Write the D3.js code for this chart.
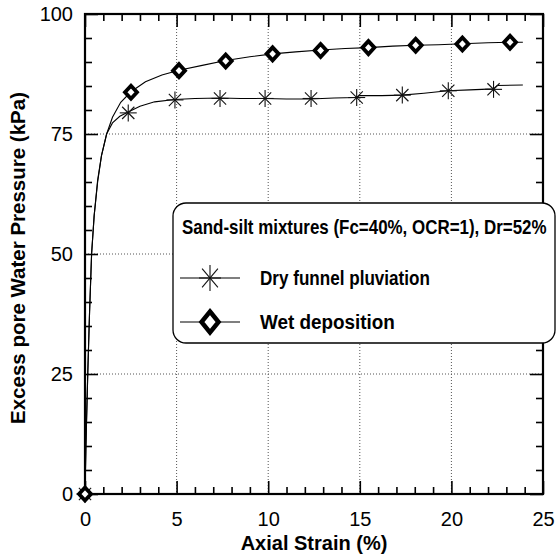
<!DOCTYPE html>
<html><head><meta charset="utf-8">
<script src="https://cdn.jsdelivr.net/npm/d3@7"></script>
<style>
body{margin:0;background:#fff;}
svg{display:block;font-family:"Liberation Sans",Arial,sans-serif;}
</style></head>
<body><svg id="c" width="556" height="557"></svg>
<script>
// ---- data ----
const xTicks = [0, 5, 10, 15, 20, 25];
const yTicks = [0, 25, 50, 75, 100];
const seriesNames = ["Dry funnel pluviation", "Wet deposition"];
const legendTitle = "Sand-silt mixtures (Fc=40%, OCR=1), Dr=52%";
const xTitle = "Axial Strain (%)";
const yTitle = "Excess pore Water Pressure (kPa)";

const dryCurveX = [0, 0.05, 0.15, 0.25, 0.36, 0.5, 0.69, 0.9, 1.18, 1.5, 1.9, 2.36, 3.0, 3.8, 4.9, 6.0, 7.4, 8.5, 9.8, 11.0, 12.3, 13.6, 14.8, 15.0, 16.2, 17.3, 18.5, 19.8, 21.0, 22.3, 22.5, 23.9];
const dryCurveY = [0, 10, 25, 38, 50, 58, 65.4, 70.5, 75, 77.3, 78.7, 79.6, 80.8, 81.7, 82.2, 82.4, 82.5, 82.4, 82.4, 82.3, 82.3, 82.5, 82.6, 83.0, 83.0, 83.1, 83.5, 84.0, 84.2, 84.4, 85.1, 85.2];
const wetCurveX = [0, 0.05, 0.15, 0.25, 0.36, 0.5, 0.69, 0.9, 1.18, 1.5, 1.95, 2.51, 3.3, 4.2, 5.13, 6.4, 7.68, 9.0, 10.24, 11.5, 12.86, 14.2, 15.47, 16.8, 18.05, 19.3, 20.6, 22.0, 23.2, 23.9];
const wetCurveY = [0, 10, 25, 38, 50, 58, 65, 70.5, 75, 78.5, 81.6, 83.8, 85.9, 87.3, 88.3, 89.3, 90.3, 91.1, 91.7, 92.1, 92.5, 92.8, 93.0, 93.3, 93.5, 93.6, 93.8, 94.0, 94.1, 94.1];

const dryMarkX = [0, 2.36, 4.91, 7.37, 9.83, 12.34, 14.83, 17.32, 19.83, 22.3];
const dryMarkY = [0, 79.4, 82.1, 82.4, 82.4, 82.4, 82.6, 83.1, 84.0, 84.3];
const wetMarkX = [0, 2.51, 5.13, 7.68, 10.24, 12.86, 15.47, 18.05, 20.6, 23.2];
const wetMarkY = [0, 83.7, 88.2, 90.2, 91.7, 92.4, 93.0, 93.5, 93.75, 94.1];

// ---- layout ----
const L = 85, R = 543, T = 14, B = 494;
const svg = d3.select("#c");
const x = d3.scaleLinear().domain([0, 25]).range([L, R]);
const y = d3.scaleLinear().domain([0, 100]).range([B, T]);

// grid
const g = svg.append("g");
g.selectAll(".gx").data(xTicks.filter(v => v > 0 && v < 25)).enter().append("line")
  .attr("x1", d => x(d)).attr("x2", d => x(d)).attr("y1", T).attr("y2", B)
  .attr("stroke", "#555").attr("stroke-width", 1).attr("stroke-dasharray", "1,2");
g.selectAll(".gy").data(yTicks.filter(v => v > 0 && v < 100)).enter().append("line")
  .attr("y1", d => y(d)).attr("y2", d => y(d)).attr("x1", L).attr("x2", R)
  .attr("stroke", "#555").attr("stroke-width", 1).attr("stroke-dasharray", "1,2");

// axes
const xMinor = d3.range(0, 26, 1).filter(v => v % 5 !== 0);
const yMinor = d3.range(0, 101, 5).filter(v => v % 25 !== 0);
function styleAxis(sel) {
  sel.select(".domain").remove();
  sel.selectAll("line").attr("stroke", "#000").attr("stroke-width", 1.6);
  sel.selectAll("text").attr("fill", "#000").attr("font-size", 20);
}
svg.append("g").attr("transform", `translate(0,${B})`)
  .call(d3.axisBottom(x).tickValues(xTicks).tickSize(-13).tickPadding(18).tickFormat(d3.format("d"))).call(styleAxis);
svg.append("g").attr("transform", `translate(0,${B})`)
  .call(d3.axisBottom(x).tickValues(xMinor).tickSize(-7).tickFormat("")).call(styleAxis);
svg.append("g").attr("transform", `translate(0,${T})`)
  .call(d3.axisTop(x).tickValues(xTicks).tickSize(-13).tickFormat("")).call(styleAxis);
svg.append("g").attr("transform", `translate(0,${T})`)
  .call(d3.axisTop(x).tickValues(xMinor).tickSize(-7).tickFormat("")).call(styleAxis);
svg.append("g").attr("transform", `translate(${L},0)`)
  .call(d3.axisLeft(y).tickValues(yTicks).tickSize(-13).tickPadding(12).tickFormat(d3.format("d"))).call(styleAxis);
svg.append("g").attr("transform", `translate(${L},0)`)
  .call(d3.axisLeft(y).tickValues(yMinor).tickSize(-7).tickFormat("")).call(styleAxis);
svg.append("g").attr("transform", `translate(${R},0)`)
  .call(d3.axisRight(y).tickValues(yTicks).tickSize(-13).tickFormat("")).call(styleAxis);
svg.append("g").attr("transform", `translate(${R},0)`)
  .call(d3.axisRight(y).tickValues(yMinor).tickSize(-7).tickFormat("")).call(styleAxis);

// frame
svg.append("rect").attr("x", L).attr("y", T).attr("width", R - L).attr("height", B - T)
  .attr("fill", "none").attr("stroke", "#000").attr("stroke-width", 2.2);

// curves
const line = d3.line().x(d => x(d[0])).y(d => y(d[1]));
const dryCurve = dryCurveX.map((v, i) => [v, dryCurveY[i]]);
const wetCurve = wetCurveX.map((v, i) => [v, wetCurveY[i]]);
svg.append("path").datum(dryCurve).attr("d", line).attr("fill", "none").attr("stroke", "#000").attr("stroke-width", 1.1);
svg.append("path").datum(wetCurve).attr("d", line).attr("fill", "none").attr("stroke", "#000").attr("stroke-width", 1.1);

// markers
function star(sel, cx, cy, hw, hh) {
  const gg = sel.append("g").attr("transform", `translate(${cx},${cy})`)
    .attr("stroke", "#111").attr("stroke-width", 1.1);
  gg.append("line").attr("x1", 0).attr("x2", 0).attr("y1", -hh).attr("y2", hh);
  gg.append("line").attr("x1", -hw).attr("x2", hw).attr("y1", 0).attr("y2", 0);
  gg.append("line").attr("x1", -hw * 0.72).attr("x2", hw * 0.72).attr("y1", -hh * 0.72).attr("y2", hh * 0.72);
  gg.append("line").attr("x1", -hw * 0.72).attr("x2", hw * 0.72).attr("y1", hh * 0.72).attr("y2", -hh * 0.72);
}
function diamond(sel, cx, cy, hw, hh, sw) {
  sel.append("path").attr("d", `M${cx},${cy - hh}L${cx + hw},${cy}L${cx},${cy + hh}L${cx - hw},${cy}Z`)
    .attr("fill", "#fff").attr("stroke", "#000").attr("stroke-width", sw).attr("stroke-linejoin", "miter");
}
const mk = svg.append("g");
dryMarkX.forEach((v, i) => star(mk, x(v), y(dryMarkY[i]), 8.5, 8.5));
wetMarkX.forEach((v, i) => diamond(mk, x(v), y(wetMarkY[i]), 6, 6.5, 3.8));

// axis titles
svg.append("text").attr("x", (L + R) / 2).attr("y", 550).attr("text-anchor", "middle")
  .attr("font-size", 20).attr("font-weight", "bold").text(xTitle);
svg.append("text").attr("transform", `translate(25,${(T + B) / 2 + 4}) rotate(-90)`).attr("text-anchor", "middle")
  .attr("font-size", 20.5).attr("font-weight", "bold").text(yTitle);

// legend
const lg = svg.append("g");
lg.append("rect").attr("x", 173).attr("y", 203).attr("width", 382).attr("height", 140).attr("rx", 13)
  .attr("fill", "#fff").attr("stroke", "#000").attr("stroke-width", 1.3);
function narrowText(sel, tx, ty, str, target) {
  const t = sel.append("text").attr("font-size", 20).attr("font-weight", "bold").text(str);
  const w = t.node().getComputedTextLength();
  const s = Math.min(1, target / w);
  t.attr("transform", `translate(${tx},${ty}) scale(${s},1)`);
}
narrowText(lg, 182, 234, legendTitle, 365);
const ly = [278, 322];
const lw = [170, 135];
ly.forEach((yy, i) => {
  lg.append("line").attr("x1", 180).attr("x2", 240).attr("y1", yy).attr("y2", yy).attr("stroke", "#000").attr("stroke-width", 1.1);
  if (i === 0) star(lg, 210, yy, 11, 13); else diamond(lg, 210, yy, 8.5, 10.5, 4.5);
  narrowText(lg, 260, yy + 7, seriesNames[i], lw[i]);
});
</script></body></html>
